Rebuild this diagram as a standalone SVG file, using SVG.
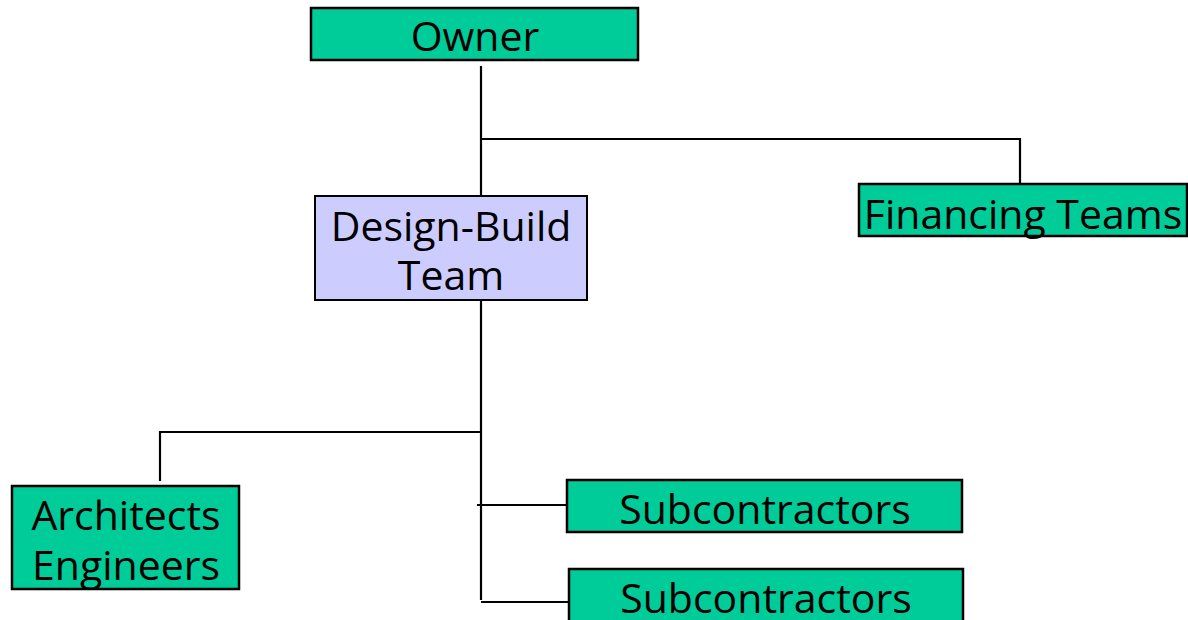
<svg xmlns="http://www.w3.org/2000/svg" width="1188" height="620" viewBox="0 0 1188 620">
<style>
.g{fill:#00CC99;stroke:#000;stroke-width:2.5}
.p{fill:#CCCCFF;stroke:#000;stroke-width:2}
.t{font-family:"Open Sans","Noto Sans",sans-serif;font-size:41px;fill:#000;text-anchor:middle}
.c{stroke:#000;stroke-width:2.2;fill:none}
</style>
<rect width="1188" height="620" fill="#fff"/>
<g id="connectors">
<path class="c" d="M481 66V196M481 139H1020V184"/>
<path class="c" d="M481 300V600M481 432H160V481"/>
<path class="c" d="M477 505H567M481 602H569"/>
</g>
<g id="owner"><rect class="g" x="311" y="8" width="327" height="52"/><text class="t" x="475" y="51">Owner</text></g>
<g id="financing"><rect class="g" x="859" y="184" width="328" height="52"/><text class="t" x="1023" y="229">Financing Teams</text></g>
<g id="design-build"><rect class="p" x="315" y="196" width="272" height="104"/><text class="t" x="451" y="241">Design-Build</text><text class="t" x="451" y="290">Team</text></g>
<g id="architects"><rect class="g" x="12" y="486" width="227" height="103"/><text class="t" x="126" y="530">Architects</text><text class="t" x="126" y="580">Engineers</text></g>
<g id="sub1"><rect class="g" x="567" y="480" width="395" height="52"/><text class="t" x="765" y="524">Subcontractors</text></g>
<g id="sub2"><rect class="g" x="569" y="569" width="394" height="60"/><text class="t" x="766" y="613">Subcontractors</text></g>
</svg>
